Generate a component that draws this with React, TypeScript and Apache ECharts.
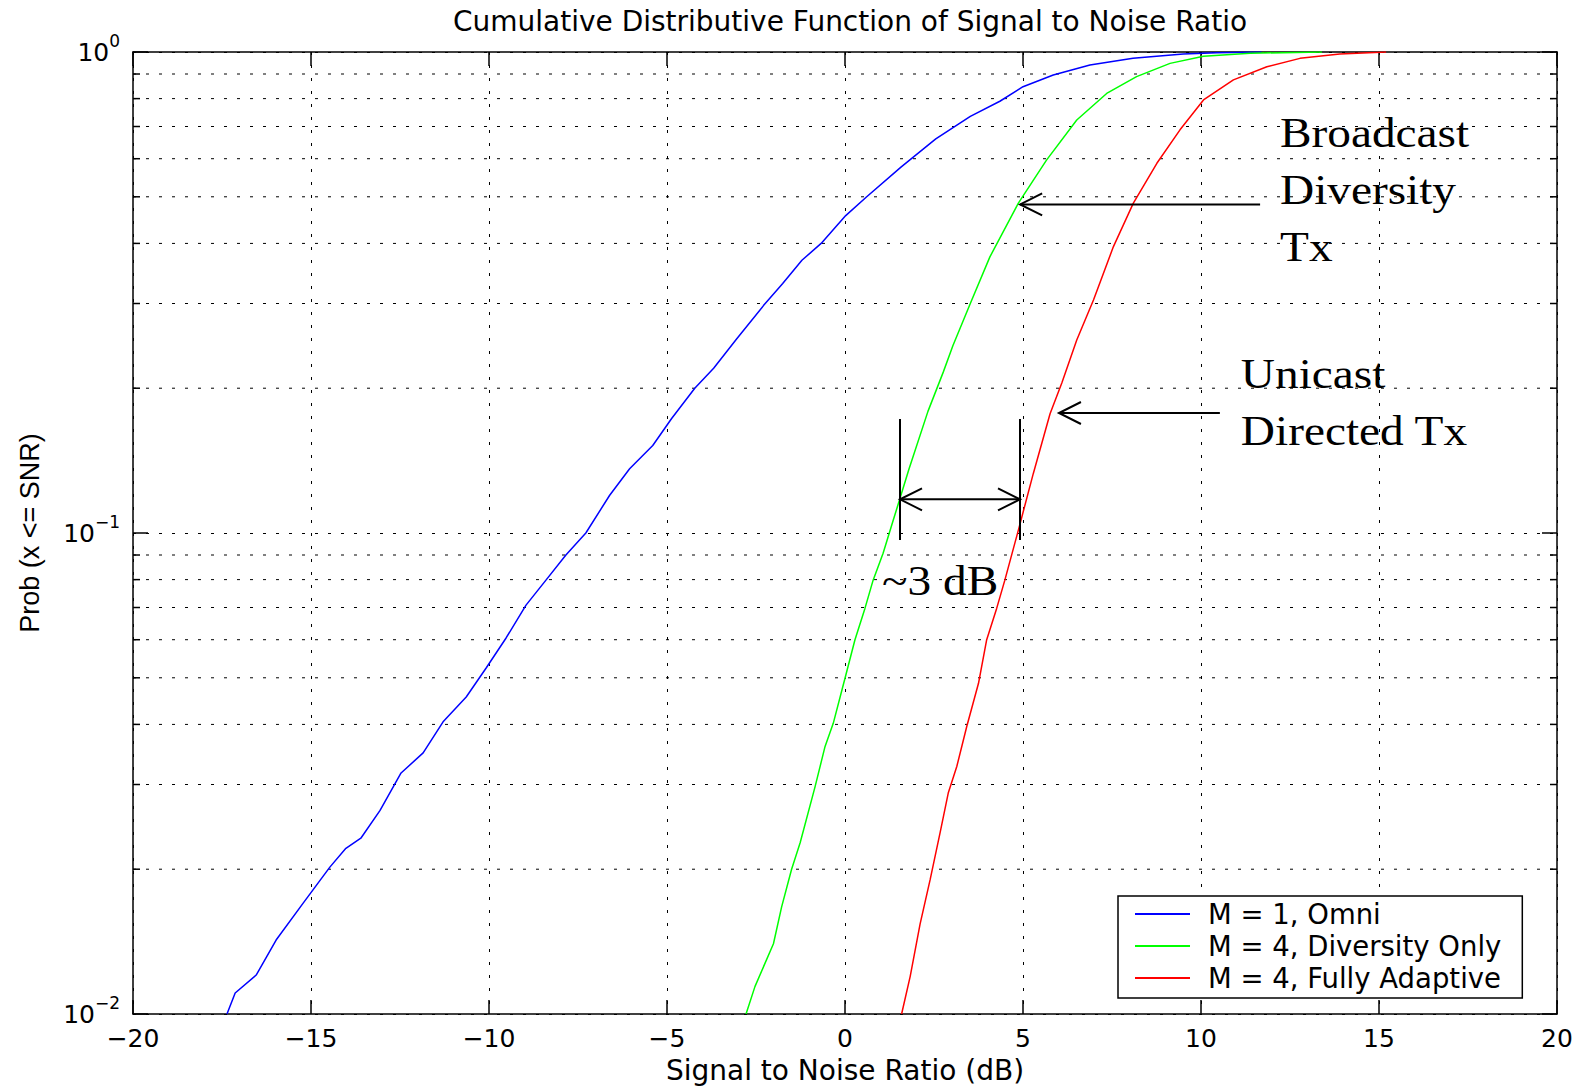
import React, { useEffect, useRef } from "react";
import * as echarts from "echarts";

const TITLE = "Cumulative Distributive Function of Signal to Noise Ratio";
const X_NAME = "Signal to Noise Ratio (dB)";
const Y_NAME = "Prob (x <= SNR)";
const SERIES_NAMES = ["M = 1, Omni", "M = 4, Diversity Only", "M = 4, Fully Adaptive"];
const SERIES_COLORS = ["#0000ff", "#00ff00", "#ff0000"];

const X_MIN = -20;
const X_MAX = 20;
const X_STEP = 5;
const Y_MIN = 0.01;
const Y_MAX = 1;
const minorProbs = [0.02, 0.03, 0.04, 0.05, 0.06, 0.07, 0.08, 0.09, 0.2, 0.3, 0.4, 0.5, 0.6, 0.7, 0.8, 0.9];

// M = 1, Omni
const omniSnr = [-17.36, -17.13, -16.54, -15.98, -15.22, -14.47, -14.02, -13.6, -13.06, -12.47, -11.85, -11.29, -10.64, -10.08, -9.52, -8.96, -8.4, -7.84, -7.28, -6.61, -6.05, -5.4, -4.87, -4.22, -3.69, -3.04, -2.29, -1.75, -1.21, -0.67, 0.02, 0.61, 1.58, 2.55, 3.52, 4.35, 5.0, 5.85, 6.88, 8.09, 9.5, 10.45, 11.7];
const omniProb = [0.01, 0.01106, 0.01205, 0.01425, 0.017, 0.0202, 0.0221, 0.0232, 0.0265, 0.0317, 0.0349, 0.0405, 0.0456, 0.0524, 0.0605, 0.0708, 0.0798, 0.09, 0.1, 0.1198, 0.136, 0.152, 0.173, 0.2, 0.22, 0.2535, 0.297, 0.33, 0.369, 0.4, 0.457, 0.5, 0.577, 0.66, 0.735, 0.79, 0.847, 0.896, 0.94, 0.97, 0.99, 0.997, 1.0];

// M = 4, Diversity Only
const divSnr = [-2.78, -2.53, -2.01, -1.78, -1.5, -1.26, -0.84, -0.56, -0.33, 0.0, 0.28, 0.56, 0.79, 1.07, 1.35, 1.8, 2.33, 2.76, 3.03, 3.52, 4.07, 4.87, 5.66, 6.51, 7.35, 8.19, 9.13, 10.07, 11.38, 13.4];
const divProb = [0.01, 0.0114, 0.014, 0.0167, 0.02, 0.0227, 0.0297, 0.036, 0.0402, 0.0499, 0.06, 0.0697, 0.0798, 0.0908, 0.106, 0.136, 0.179, 0.216, 0.245, 0.3, 0.375, 0.485, 0.596, 0.722, 0.82, 0.889, 0.947, 0.98, 0.994, 1.0];

// M = 4, Fully Adaptive
const adaSnr = [1.59, 1.83, 2.11, 2.39, 2.67, 2.9, 3.14, 3.42, 3.75, 3.98, 4.26, 4.49, 4.87, 5.29, 5.76, 6.09, 6.51, 6.98, 7.54, 8.1, 8.76, 9.41, 10.07, 10.91, 11.85, 12.78, 13.9, 15.2];
const adaProb = [0.01, 0.01196, 0.0154, 0.019, 0.0238, 0.0288, 0.0327, 0.0396, 0.0487, 0.06, 0.0697, 0.0798, 0.1014, 0.133, 0.177, 0.205, 0.252, 0.305, 0.394, 0.485, 0.587, 0.689, 0.795, 0.875, 0.932, 0.97, 0.99, 1.0];

const broadcastLines = ["Broadcast", "Diversity", "Tx"];
const unicastLines = ["Unicast", "Directed Tx"];
const gapLabel = "~3 dB";

const SANS = '"DejaVu Sans", sans-serif';
const SERIF = '"Liberation Serif", "Times New Roman", serif';

const zip = (xs: number[], ys: number[]) => xs.map((x, i) => [x, ys[i]]);

export default function App() {
  const ref = useRef<HTMLDivElement | null>(null);

  useEffect(() => {
    document.body.style.margin = "0";
    if (!ref.current) return;
    const chart = echarts.init(ref.current, null, { renderer: "svg" });

    const gridDash = [3, 10];
    const mkSeries = (name: string, color: string, data: number[][]) => ({
      type: "line",
      name,
      data,
      xAxisIndex: 0,
      yAxisIndex: 0,
      showSymbol: false,
      symbol: "none",
      lineStyle: { color, width: 1.5 },
      itemStyle: { color },
      z: 5,
    });

    const option: any = {
      animation: false,
      color: SERIES_COLORS,
      backgroundColor: "#ffffff",
      grid: { left: 133, right: 26, top: 52, bottom: 75, containLabel: false },
      legend: {
        data: SERIES_NAMES,
        orient: "vertical",
        left: 1118,
        top: 896,
        icon: "rect",
        itemWidth: 55,
        itemHeight: 2,
        itemGap: 4,
        padding: [4, 21, 6, 17],
        backgroundColor: "#ffffff",
        borderColor: "#000000",
        borderWidth: 1.5,
        selectedMode: false,
        textStyle: { fontFamily: SANS, fontSize: 27.5, color: "#000", lineHeight: 27, padding: [0, 0, 0, 13] },
        z: 20,
      },
      xAxis: [
        {
          type: "value",
          min: X_MIN,
          max: X_MAX,
          interval: X_STEP,
          position: "bottom",
          name: X_NAME,
          nameLocation: "middle",
          nameGap: 42,
          nameTextStyle: { fontFamily: SANS, fontSize: 28, color: "#000" },
          axisLine: { show: true, onZero: false, lineStyle: { color: "#000", width: 1.5 } },
          axisTick: { show: true, inside: true, length: 14, lineStyle: { color: "#000", width: 1.5 } },
          axisLabel: {
            fontFamily: SANS,
            fontSize: 25,
            color: "#000",
            margin: 12,
            formatter: (v: number) => (v < 0 ? "\u2212" + Math.abs(v) : String(v)),
          },
          splitLine: { show: true, lineStyle: { color: "#000", width: 1, type: gridDash } },
        },
        {
          type: "value",
          min: X_MIN,
          max: X_MAX,
          interval: X_STEP,
          position: "top",
          axisLine: { show: true, onZero: false, lineStyle: { color: "#000", width: 1.5 } },
          axisTick: { show: true, inside: true, length: 14, lineStyle: { color: "#000", width: 1.5 } },
          axisLabel: { show: false },
          splitLine: { show: false },
        },
      ],
      yAxis: [
        {
          type: "log",
          logBase: 10,
          min: Y_MIN,
          max: Y_MAX,
          position: "left",
          name: Y_NAME,
          nameLocation: "middle",
          nameRotate: 90,
          nameGap: 90,
          nameTextStyle: { fontFamily: '"Liberation Sans", Arial, sans-serif', fontSize: 27, color: "#000" },
          axisLine: { show: true, onZero: false, lineStyle: { color: "#000", width: 1.5 } },
          axisTick: { show: true, inside: true, length: 15, lineStyle: { color: "#000", width: 1.5 } },
          axisLabel: {
            margin: 13,
            formatter: (v: number) => {
              const e = Math.round(Math.log10(v));
              return "{b|10}{s|" + (e < 0 ? "\u2212" + -e : String(e)) + "}";
            },
            rich: {
              b: { fontFamily: SANS, fontSize: 25, color: "#000", padding: [7, 0, 7, 0] },
              s: { fontFamily: SANS, fontSize: 17, color: "#000", verticalAlign: "top" },
            },
          },
          splitLine: { show: true, lineStyle: { color: "#000", width: 1, type: gridDash } },
        },
        {
          type: "log",
          logBase: 10,
          min: Y_MIN,
          max: Y_MAX,
          position: "right",
          axisLine: { show: true, onZero: false, lineStyle: { color: "#000", width: 1.5 } },
          axisTick: { show: true, inside: true, length: 15, lineStyle: { color: "#000", width: 1.5 } },
          axisLabel: { show: false },
          splitLine: { show: false },
        },
      ],
      series: [
        {
          type: "custom",
          name: "minorGrid",
          silent: true,
          xAxisIndex: 0,
          yAxisIndex: 0,
          z: 1,
          data: minorProbs.map((p) => [X_MIN, p]),
          renderItem: (params: any, api: any) => {
            const cs = params.coordSys;
            const y = api.coord([X_MIN, api.value(1)])[1];
            return {
              type: "group",
              children: [
                {
                  type: "line",
                  shape: { x1: cs.x, y1: y, x2: cs.x + cs.width, y2: y },
                  style: { stroke: "#000", lineWidth: 1, lineDash: gridDash },
                },
                {
                  type: "line",
                  shape: { x1: cs.x, y1: y, x2: cs.x + 7, y2: y },
                  style: { stroke: "#000", lineWidth: 1.5 },
                },
                {
                  type: "line",
                  shape: { x1: cs.x + cs.width - 7, y1: y, x2: cs.x + cs.width, y2: y },
                  style: { stroke: "#000", lineWidth: 1.5 },
                },
              ],
            };
          },
        },
        mkSeries(SERIES_NAMES[0], SERIES_COLORS[0], zip(omniSnr, omniProb)),
        mkSeries(SERIES_NAMES[1], SERIES_COLORS[1], zip(divSnr, divProb)),
        mkSeries(SERIES_NAMES[2], SERIES_COLORS[2], zip(adaSnr, adaProb)),
      ],
    };

    chart.setOption(option);

    const toPx = (x: number, p: number) =>
      chart.convertToPixel({ xAxisIndex: 0, yAxisIndex: 0 }, [x, p]) as number[];

    const stroke = { stroke: "#000", lineWidth: 2 };
    const HEAD_DX = 22;
    const HEAD_DY = 11;
    const leftHead = (tx: number, ty: number) => ({
      type: "polyline",
      shape: { points: [[tx + HEAD_DX, ty - HEAD_DY], [tx, ty], [tx + HEAD_DX, ty + HEAD_DY]] },
      style: { ...stroke, fill: null },
      z: 30,
    });
    const rightHead = (tx: number, ty: number) => ({
      type: "polyline",
      shape: { points: [[tx - HEAD_DX, ty - HEAD_DY], [tx, ty], [tx - HEAD_DX, ty + HEAD_DY]] },
      style: { ...stroke, fill: null },
      z: 30,
    });
    const hLine = (x1: number, x2: number, y: number) => ({
      type: "line",
      shape: { x1, y1: y, x2, y2: y },
      style: stroke,
      z: 30,
    });
    const vLine = (x: number, y1: number, y2: number) => ({
      type: "line",
      shape: { x1: x, y1, x2: x, y2 },
      style: stroke,
      z: 30,
    });
    const FS = 43;
    const CENTRAL = 0.3375 * FS;
    const serifText = (text: string, x: number, baseline: number) => ({
      type: "text",
      x,
      y: baseline - CENTRAL,
      scaleX: 1.1,
      z: 30,
      style: {
        text,
        x: 0,
        y: 0,
        fontFamily: SERIF,
        fontSize: FS,
        fill: "#000",
        align: "left",
        verticalAlign: "middle",
      },
    });

    const bTip = toPx(4.92, 0.482);
    const bTail = toPx(11.66, 0.482);
    const uTip = toPx(6.01, 0.1776);
    const uTail = toPx(10.53, 0.1776);
    const gTopL = toPx(1.545, 0.1726);
    const gBotL = toPx(1.545, 0.0967);
    const gTopR = toPx(4.916, 0.1726);
    const gMid = toPx(1.545, 0.1175)[1];
    const bText = toPx(12.22, 0.6337);
    const uText = toPx(11.12, 0.2);
    const gText = toPx(1.04, 0.0743);
    const LINE_STEP = 57.2;

    const topRight = toPx(X_MAX, Y_MAX);
    const topLeft = toPx(X_MIN, Y_MAX);
    const titleX = (topLeft[0] + topRight[0]) / 2 + 5;

    const graphics: any[] = [
      {
        type: "text",
        x: titleX,
        y: topLeft[1] - 31,
        z: 30,
        style: {
          text: TITLE,
          fontFamily: SANS,
          fontSize: 28,
          fill: "#000",
          align: "center",
          verticalAlign: "middle",
        },
      },
      hLine(bTip[0], bTail[0], bTip[1]),
      leftHead(bTip[0], bTip[1]),
      hLine(uTip[0], uTail[0], uTip[1]),
      leftHead(uTip[0], uTip[1]),
      vLine(gTopL[0], gTopL[1], gBotL[1]),
      vLine(gTopR[0], gTopL[1], gBotL[1]),
      hLine(gTopL[0], gTopR[0], gMid),
      leftHead(gTopL[0], gMid),
      rightHead(gTopR[0], gMid),
      ...broadcastLines.map((t, i) => serifText(t, bText[0], bText[1] + i * LINE_STEP)),
      ...unicastLines.map((t, i) => serifText(t, uText[0], uText[1] + i * LINE_STEP)),
      serifText(gapLabel, gText[0], gText[1]),
    ];

    chart.setOption({ graphic: graphics });

    return () => {
      chart.dispose();
    };
  }, []);

  return <div ref={ref} style={{ width: 1583, height: 1089 }} />;
}
